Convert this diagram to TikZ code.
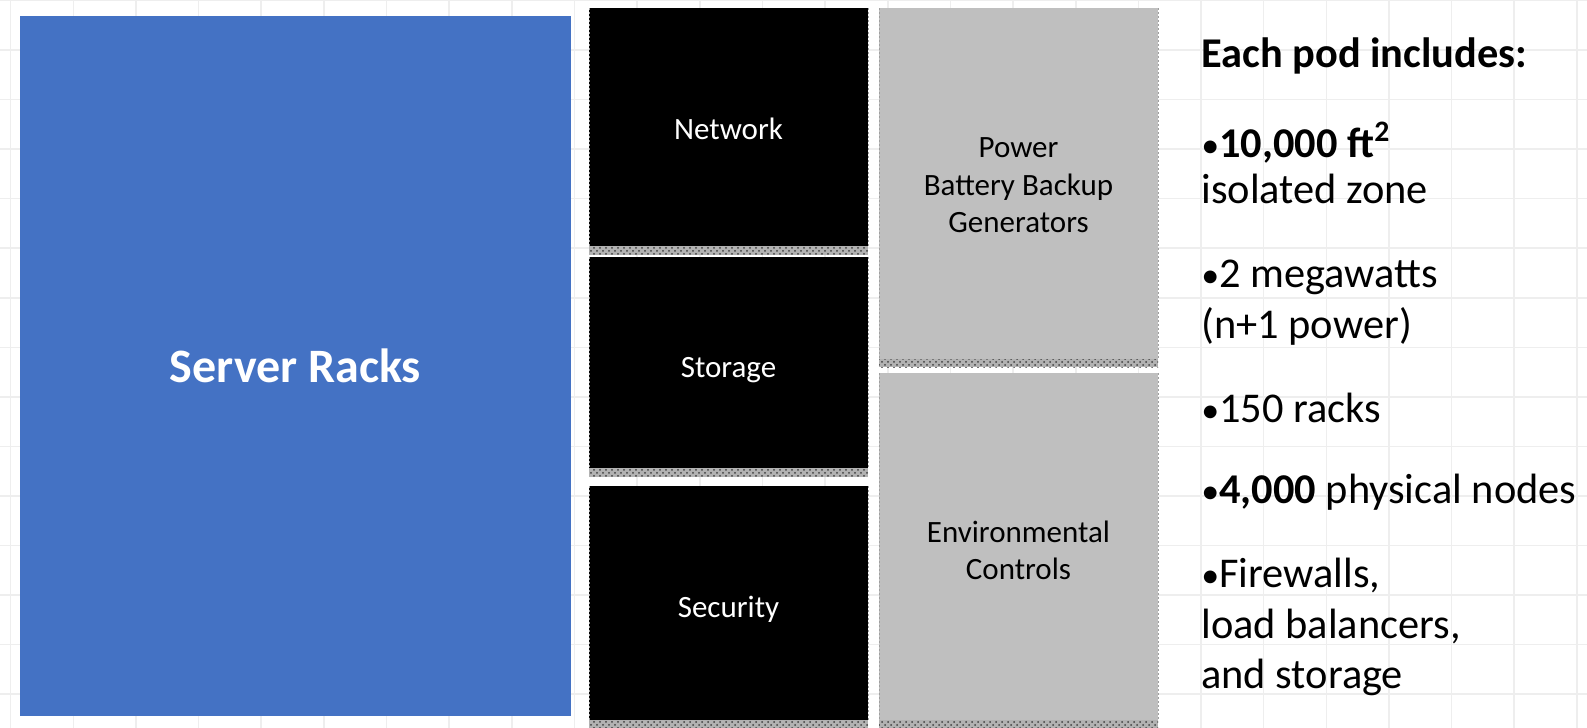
\documentclass[tikz,border=0pt]{standalone}
\usepackage{fontspec}
\setmainfont{Carlito}
\usetikzlibrary{patterns, positioning, calc}
\definecolor{rackblue}{HTML}{4472C4}
\definecolor{unitgray}{HTML}{BFBFBF}
\definecolor{gridgray}{HTML}{EEEEEE}
\def\pxu{0.5pt}
\newcommand\dotmark{\scalebox{0.85}{•}}

\begin{document}
\begin{tikzpicture}[x=0.5pt, y=-0.5pt]
	\tikzset{
		block/.style = {anchor=north west, inner sep=0pt, outer sep=0pt, align=center},
		rack/.style = {block, fill=rackblue, text=white, font={\fontsize{24}{29}\selectfont\bfseries}},
		darkunit/.style = {block, fill=black, minimum width=279*\pxu},
		lightunit/.style = {block, fill=unitgray, minimum width=279*\pxu},
		unittext/.style = {align=center, inner sep=0pt, font={\fontsize{15.5}{18.75}\selectfont}},
		strip/.style = {fill=gray!60, postaction={pattern=crosshatch dots, pattern color=black!75}},
		edge/.style = {draw=gray!75, dash pattern=on 1pt off 1pt, line width=0.4pt},
		gridline/.style = {draw=gridgray, line width=0.8pt},
		info/.style = {anchor=base west, inner sep=0pt, font={\fontsize{21.2}{25}\selectfont}},
	}

	\useasboundingbox[fill=white] (0,0) rectangle (1587,728);

	% sheet grid
	\foreach \k in {-19,...,6}
		{
			\draw[gridline] ({1201+62.65*\k},0) -- ++(0,728);
		}
	\foreach \k in {-1,...,13}
		{
			\draw[gridline] (0,{50+49.55*\k}) -- ++(1587,0);
		}

	\node[rack, minimum width=551*\pxu, minimum height=700*\pxu] (racks) at (20,16) {Server Racks};

	\node[darkunit, minimum height=238*\pxu] (net) at (589,8) {};
	\node[darkunit, minimum height=211*\pxu] (stor) at (589,257) {};
	\node[darkunit, minimum height=234*\pxu] (sec) at (589,486) {};

	\node[lightunit, minimum height=351*\pxu] (pow) at (879,8) {};
	\node[lightunit, minimum height=347*\pxu] (env) at (879,373) {};

	\foreach \b/\h in {net/9, stor/9, sec/8, pow/8, env/8}
		{
			\fill[strip] (\b.south west) rectangle ($(\b.south east) + (0,\h)$);
			\draw[edge] (\b.north west) -- (\b.south west);
			\draw[edge] (\b.north east) -- (\b.south east);
		}

	\foreach \b/\s/\c/\t in {net/2/white/Network, stor/8/white/Storage, sec/6/white/Security,
			pow/2/black/{Power\\Battery Backup\\Generators}, env/4/black/{Environmental\\Controls}}
		{
			\node[unittext, text=\c] (\b-text) at ($(\b.center) + (0,\s)$) {\t};
		}

	\foreach \y/\t/\n in {68/{\textbf{Each pod includes:}}/head,
			157/{\dotmark\textbf{10,000 ft\textsuperscript{2}}}/area,
			203/{isolated zone}/zone,
			287/{\dotmark 2 megawatts}/mw,
			338/{(n+1 power)}/redund,
			422/{\dotmark 150 racks}/count,
			503/{\dotmark\textbf{4,000} physical nodes}/hosts,
			587/{\dotmark Firewalls,}/fw,
			638/{load balancers,}/lb,
			688/{and storage}/stg}
		{
			\node[info] (\n) at (1201,\y) {\t};
		}

\end{tikzpicture}
\end{document}
